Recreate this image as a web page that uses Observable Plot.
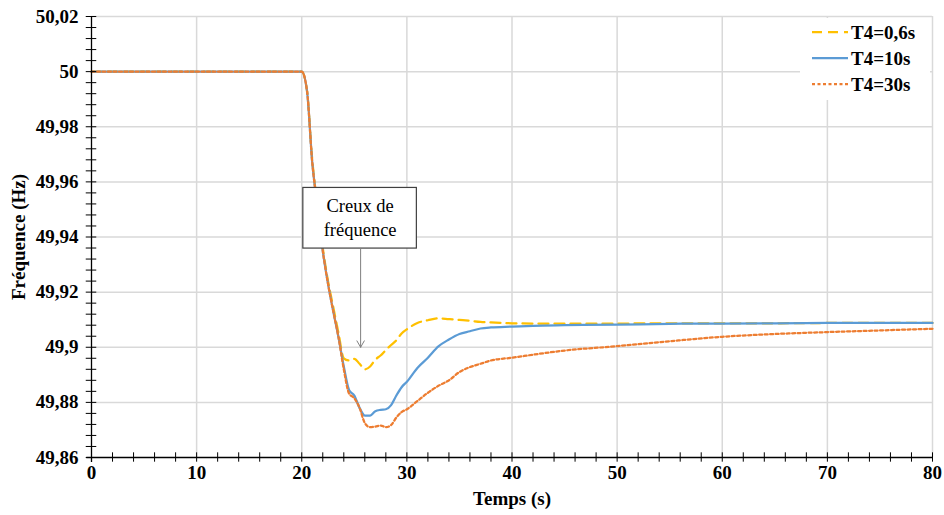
<!DOCTYPE html>
<html>
<head>
<meta charset="utf-8">
<script src="https://cdn.jsdelivr.net/npm/d3@7"></script>
<script src="https://cdn.jsdelivr.net/npm/@observablehq/plot@0.6"></script>
<style>
  html, body { margin: 0; padding: 0; background: white; }
  #chart { width: 944px; height: 515px; }
</style>
</head>
<body>
<div id="chart"></div>
<script>
// ---- data ----
const time = [0, 20, 20.5, 21, 21.5, 22, 22.5, 23, 23.5, 24, 24.5, 25, 25.5, 26, 26.5, 27, 27.5, 28, 28.5, 29, 29.5, 30, 31, 32, 33, 34, 35, 36, 37, 38, 40, 42, 45, 50, 55, 60, 65, 70, 75, 80];
const freqT4_06 = [50, 50, 49.993, 49.968, 49.951, 49.936, 49.924, 49.9145, 49.905, 49.896, 49.8952, 49.8958, 49.894, 49.892, 49.893, 49.8955, 49.897, 49.899, 49.9008, 49.9025, 49.905, 49.9065, 49.9088, 49.9098, 49.9105, 49.9102, 49.9099, 49.9096, 49.9092, 49.909, 49.9087, 49.9086, 49.9086, 49.9086, 49.9087, 49.9087, 49.9087, 49.9088, 49.9088, 49.9088];
const freqT4_10 = [50, 50, 49.993, 49.967, 49.951, 49.935, 49.923, 49.913, 49.9035, 49.893, 49.8845, 49.8825, 49.878, 49.8752, 49.8752, 49.8768, 49.8773, 49.8775, 49.879, 49.8825, 49.8855, 49.8875, 49.8925, 49.8962, 49.9003, 49.9028, 49.9048, 49.9058, 49.9068, 49.9072, 49.9075, 49.9078, 49.908, 49.9082, 49.9085, 49.9086, 49.9087, 49.9088, 49.9088, 49.9088];
const freqT4_30 = [50, 50, 49.993, 49.967, 49.951, 49.935, 49.923, 49.913, 49.9035, 49.892, 49.8832, 49.8815, 49.878, 49.8725, 49.871, 49.8712, 49.8716, 49.871, 49.8718, 49.8745, 49.8765, 49.8775, 49.8805, 49.8835, 49.886, 49.888, 49.891, 49.8928, 49.894, 49.8952, 49.8962, 49.8973, 49.8988, 49.9004, 49.9022, 49.9038, 49.9048, 49.9055, 49.9061, 49.9067];
const seriesNames = ["T4=0,6s", "T4=10s", "T4=30s"];
const seriesColors = ["#FFC000", "#5B9BD5", "#ED7D31"];
const seriesDash = ["10,6", null, "3,2.5"];
const xTicks = [0, 10, 20, 30, 40, 50, 60, 70, 80];
const yTicks = [49.86, 49.88, 49.9, 49.92, 49.94, 49.96, 49.98, 50, 50.02];
const xMinor = d3.range(0, 80.001, 2);
const yMinor = d3.range(0, 41).map(i => +(49.86 + i * 0.004).toFixed(3));
const annotationLines = ["Creux de", "fréquence"];
const annotationBox = [{x1: 20.15, x2: 30.95, y1: 49.9358, y2: 49.9578}];
const annotationArrow = [{x: 25.6, yFrom: 49.9358, yTo: 49.9}];

const allSeries = [freqT4_06, freqT4_10, freqT4_30];
const rows = allSeries.map(vals => time.map((t, i) => ({t, f: vals[i]})));
const fmt = d => String(+d.toFixed(2)).replace(".", ",");
const serif = "'Liberation Serif', 'Times New Roman', serif";
const FS = 19;

const chart = Plot.plot({
  width: 944,
  height: 515,
  marginLeft: 91,
  marginRight: 12,
  marginTop: 16,
  marginBottom: 58,
  x: {domain: [0, 80], axis: null},
  y: {domain: [49.86, 50.02], axis: null},
  style: {fontFamily: serif, background: "white", color: "black", overflow: "visible"},
  marks: [
    Plot.ruleX(xTicks.filter(d => d > 0), {x: d => d, stroke: "#d9d9d9", strokeWidth: 1.5}),
    Plot.ruleY(yTicks.filter(d => d > 49.86), {y: d => d, stroke: "#d9d9d9", strokeWidth: 1.5}),
    ...rows.map((r, i) => Plot.line(r, {
      x: "t", y: "f", stroke: seriesColors[i], strokeWidth: 2.25,
      strokeDasharray: seriesDash[i], curve: "monotone-x"
    })),
    Plot.ruleX([0], {x: d => d, y1: () => 49.86 - 0.0018, y2: () => 50.02, stroke: "black", strokeWidth: 1.3}),
    Plot.ruleY([49.86], {y: d => d, x1: () => -0.45, x2: () => 80, stroke: "black", strokeWidth: 1.3}),
    Plot.ruleY(yMinor, {y: d => d, x1: () => -0.5, x2: () => 0.5, stroke: "black", strokeWidth: 1}),
    Plot.ruleX(xMinor, {x: d => d, y1: () => 49.86 - 0.0017, y2: () => 49.86 + 0.0017, stroke: "black", strokeWidth: 1}),
    Plot.text(yTicks, {y: d => d, text: fmt, frameAnchor: "left", dx: -13, textAnchor: "end",
      fontSize: FS, fontWeight: "bold", fill: "black"}),
    Plot.text(xTicks, {x: d => d, text: fmt, frameAnchor: "bottom", dy: 15, lineAnchor: "middle",
      fontSize: FS, fontWeight: "bold", fill: "black"}),
    Plot.text(["Fréquence (Hz)"], {frameAnchor: "left", dx: -73, rotate: -90, textAnchor: "middle",
      lineAnchor: "middle", fontSize: FS, fontWeight: "bold", fill: "black"}),
    Plot.text(["Temps (s)"], {frameAnchor: "bottom", dy: 41, lineAnchor: "middle",
      fontSize: FS, fontWeight: "bold", fill: "black"}),
    Plot.rect(annotationBox, {x1: "x1", x2: "x2", y1: "y1", y2: "y2", fill: "white", stroke: "#404040", strokeWidth: 1.2}),
    Plot.text(annotationBox, {x: d => (d.x1 + d.x2) / 2, y: d => (d.y1 + d.y2) / 2, dy: -2,
      text: () => annotationLines.join("\n"), lineHeight: 1.3, fontSize: 18.5, fill: "black", lineAnchor: "middle"}),
    Plot.arrow(annotationArrow, {x1: "x", x2: "x", y1: "yFrom", y2: "yTo", stroke: "#7f7f7f",
      strokeWidth: 1, headLength: 11})
  ]
});
document.getElementById("chart").appendChild(chart);

// legend
const svg = d3.select(chart);
const lg = svg.append("g").attr("text-anchor", "start");
lg.append("rect").attr("x", 800).attr("y", 18).attr("width", 130).attr("height", 82).attr("fill", "white");
seriesNames.forEach((name, i) => {
  const y = 32 + i * 26;
  lg.append("line").attr("x1", 812).attr("x2", 848).attr("y1", y).attr("y2", y)
    .attr("stroke", seriesColors[i]).attr("stroke-width", 2.25)
    .attr("stroke-dasharray", seriesDash[i] || null);
  lg.append("text").attr("x", 851).attr("y", y).attr("dy", "0.35em")
    .attr("text-anchor", "start")
    .attr("font-family", serif).attr("font-size", FS).attr("font-weight", "bold")
    .attr("fill", "black").text(name);
});
</script>
</body>
</html>
